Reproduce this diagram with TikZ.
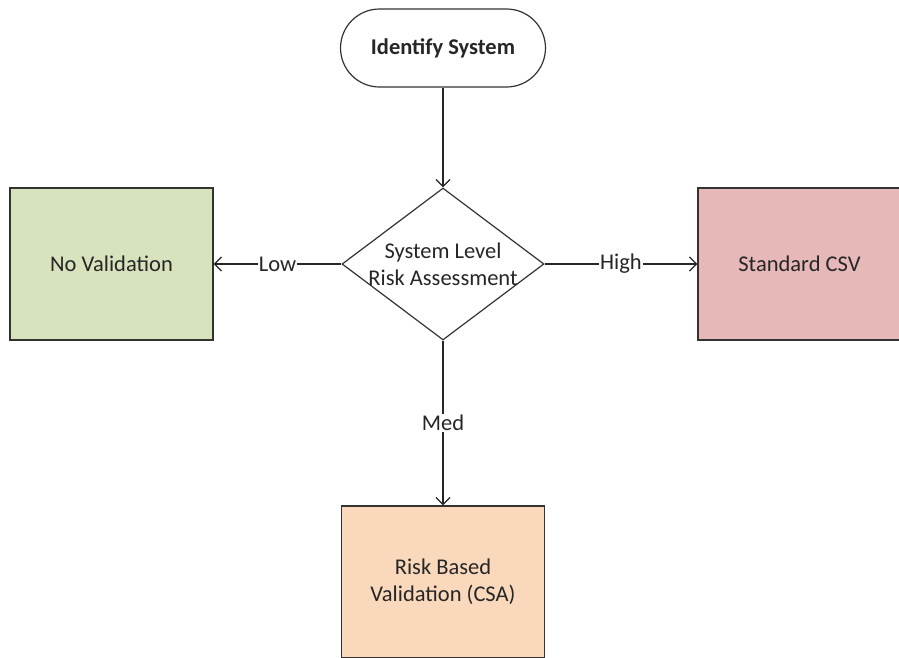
\documentclass[tikz,border=0pt]{standalone}
\usepackage{fontspec}
\setmainfont{Carlito}
\usetikzlibrary{shapes.geometric,arrows.meta}
\definecolor{txt}{HTML}{262626}
\definecolor{lowc}{HTML}{D7E3BD}
\definecolor{highc}{HTML}{E6B8B7}
\definecolor{medc}{HTML}{FAD8BC}
\tikzset{
  every node/.style={font=\fontsize{22.5}{27}\selectfont, text=txt},
  boxnode/.style={draw=black!80, line width=1.2pt, minimum width=203pt, minimum height=152pt, inner sep=0pt, align=center},
  conn/.style={draw=black!85, line width=1.3pt, -{Straight Barb[length=7pt,width=14pt,line width=1.3pt]}},
  lbl/.style={fill=white, inner sep=1pt}
}
\begin{document}
\begin{tikzpicture}[x=1pt,y=-1pt]
\useasboundingbox (0,0) rectangle (899,657);
\clip (0,0) rectangle (899,657);
\node[draw=black!80, line width=1.2pt, rounded corners=39pt, minimum width=205pt, minimum height=78pt, inner sep=0pt, font=\bfseries\fontsize{22.5}{27}\selectfont] (start) at (443,48) {Identify System};
\node[diamond, draw=black!80, line width=1.2pt, minimum width=202pt, minimum height=152pt, inner sep=-8pt, align=center, aspect=1.33] (dec) at (443,264) {System Level\\Risk Assessment};
\node[boxnode, fill=lowc] (low) at (111.5,264) {No Validation};
\node[boxnode, fill=highc] (high) at (799.5,264) {Standard CSV};
\node[boxnode, fill=medc] (med) at (443,582) {Risk Based\\Validation (CSA)};
\draw[conn] (start.south) -- (dec.north);
\draw[conn] (dec.west) -- node[lbl] {Low} (low.east);
\draw[conn] (dec.east) -- node[lbl] {High} (high.west);
\draw[conn] (dec.south) -- node[lbl] {Med} (med.north);
\end{tikzpicture}
\end{document}
